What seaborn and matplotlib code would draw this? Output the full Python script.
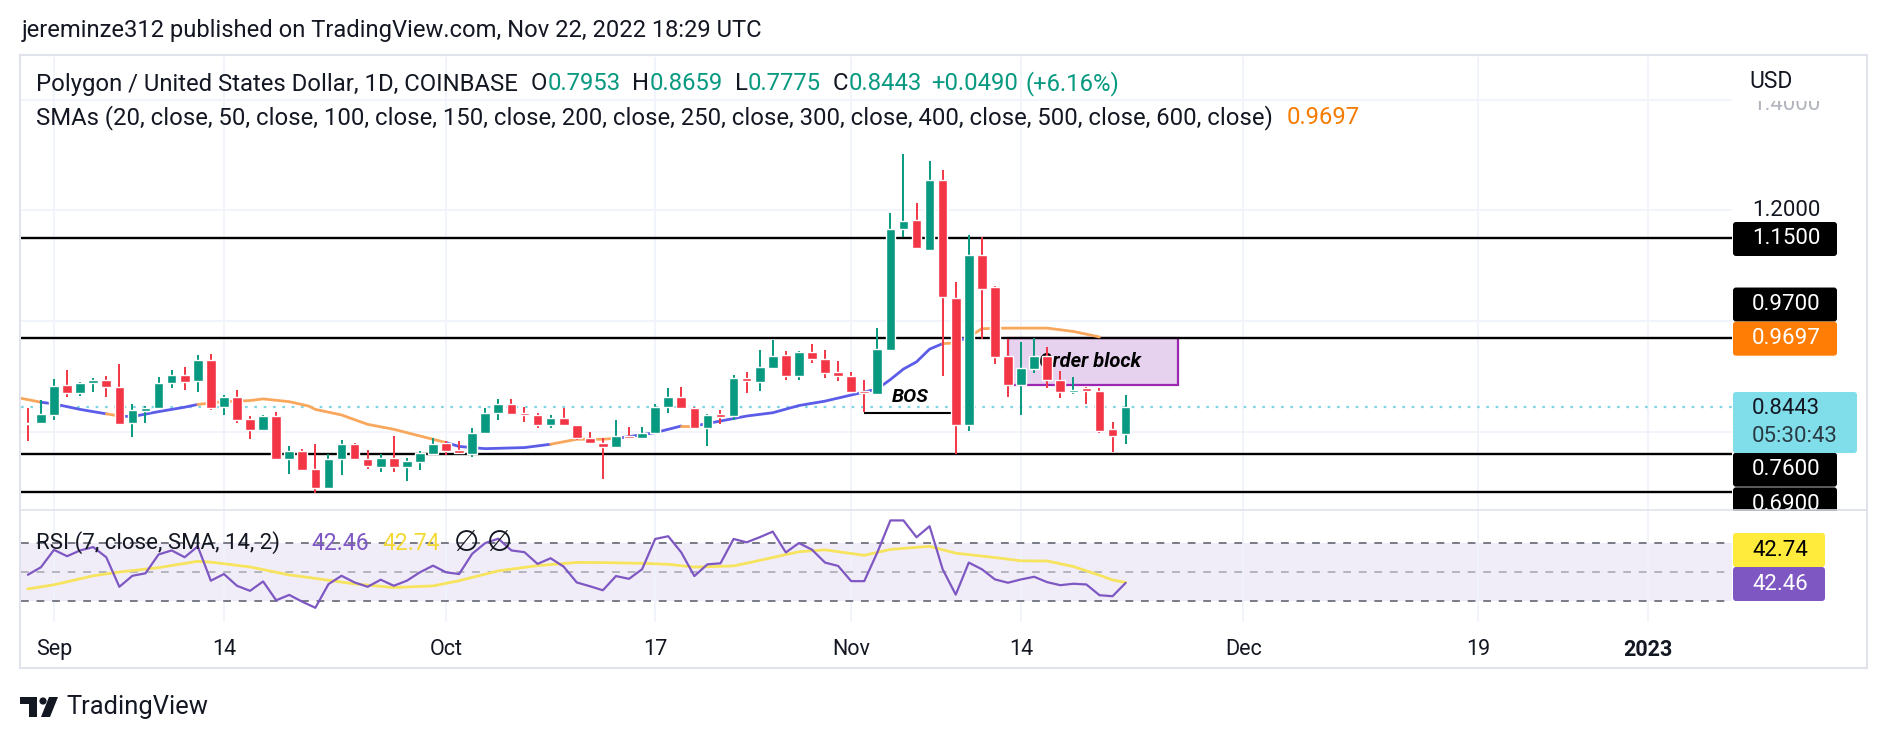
import numpy as np
import pandas as pd
import matplotlib
matplotlib.use("Agg")
import matplotlib.pyplot as plt
import matplotlib.dates as mdates
from matplotlib.patches import Rectangle, FancyBboxPatch, Polygon, Circle
import seaborn as sns

sns.set_theme(style="white")
plt.rcParams["font.family"] = ["Roboto", "DejaVu Sans"]

W, H = 1888, 742
GREEN, RED = "#089981", "#f23645"
DARK = "#131722"
GRID = "#f0f3fa"

# daily candles, Aug 30 .. Nov 22 2022
dates = pd.date_range("2022-08-30", "2022-11-22", freq="D")
opens = [0.816, 0.815, 0.830, 0.884, 0.870, 0.887, 0.893, 0.880, 0.815, 0.838,
         0.843, 0.887, 0.903, 0.892, 0.929, 0.844, 0.862, 0.822, 0.803, 0.828,
         0.750, 0.765, 0.732, 0.698, 0.750, 0.777, 0.751, 0.736, 0.753, 0.736,
         0.745, 0.760, 0.779, 0.767, 0.760, 0.798, 0.833, 0.850, 0.833, 0.830,
         0.812, 0.824, 0.811, 0.789, 0.780, 0.772, 0.792, 0.788, 0.797, 0.845,
         0.862, 0.842, 0.807, 0.832, 0.828, 0.897, 0.890, 0.915, 0.938, 0.901,
         0.943, 0.932, 0.907, 0.900, 0.874, 0.868, 0.948, 1.166, 1.183, 1.129,
         1.255, 1.041, 0.812, 1.119, 1.062, 0.936, 0.884, 0.913, 0.937, 0.894,
         0.871, 0.878, 0.874, 0.804, 0.7953]
highs = [0.842, 0.857, 0.895, 0.911, 0.889, 0.897, 0.900, 0.922, 0.850, 0.847,
         0.898, 0.911, 0.916, 0.938, 0.941, 0.866, 0.875, 0.828, 0.830, 0.835,
         0.774, 0.768, 0.777, 0.760, 0.785, 0.780, 0.766, 0.760, 0.792, 0.753,
         0.764, 0.788, 0.782, 0.783, 0.806, 0.842, 0.858, 0.858, 0.845, 0.833,
         0.830, 0.842, 0.812, 0.800, 0.788, 0.821, 0.809, 0.809, 0.849, 0.878,
         0.880, 0.845, 0.832, 0.839, 0.902, 0.907, 0.947, 0.965, 0.946, 0.946,
         0.958, 0.947, 0.927, 0.907, 0.894, 0.988, 1.196, 1.302, 1.214, 1.289,
         1.273, 1.070, 1.155, 1.152, 1.064, 0.968, 0.962, 0.970, 0.952, 0.910,
         0.898, 0.880, 0.878, 0.818, 0.8659]
lows = [0.782, 0.814, 0.821, 0.862, 0.865, 0.872, 0.862, 0.811, 0.791, 0.815,
        0.842, 0.878, 0.875, 0.871, 0.839, 0.829, 0.816, 0.786, 0.803, 0.748,
        0.724, 0.729, 0.689, 0.698, 0.722, 0.750, 0.732, 0.726, 0.726, 0.711,
        0.730, 0.759, 0.757, 0.760, 0.754, 0.798, 0.820, 0.830, 0.818, 0.807,
        0.807, 0.810, 0.785, 0.778, 0.715, 0.772, 0.786, 0.786, 0.795, 0.834,
        0.841, 0.806, 0.774, 0.814, 0.821, 0.870, 0.874, 0.915, 0.894, 0.894,
        0.924, 0.897, 0.892, 0.871, 0.836, 0.866, 0.947, 1.151, 1.130, 1.127,
        0.900, 0.760, 0.801, 0.967, 0.923, 0.863, 0.830, 0.905, 0.878, 0.860,
        0.867, 0.849, 0.798, 0.763, 0.7775]
closes = [0.814, 0.832, 0.882, 0.870, 0.887, 0.893, 0.880, 0.814, 0.839, 0.843,
          0.887, 0.903, 0.890, 0.929, 0.842, 0.862, 0.821, 0.803, 0.828, 0.750,
          0.765, 0.730, 0.698, 0.750, 0.777, 0.751, 0.738, 0.753, 0.736, 0.747,
          0.762, 0.777, 0.765, 0.762, 0.798, 0.833, 0.850, 0.831, 0.829, 0.812,
          0.824, 0.811, 0.789, 0.780, 0.772, 0.792, 0.788, 0.797, 0.845, 0.862,
          0.842, 0.807, 0.830, 0.827, 0.897, 0.891, 0.916, 0.937, 0.901, 0.943,
          0.931, 0.906, 0.901, 0.872, 0.870, 0.949, 1.166, 1.181, 1.132, 1.255,
          1.043, 0.812, 1.119, 1.058, 0.935, 0.884, 0.914, 0.937, 0.894, 0.871,
          0.876, 0.874, 0.801, 0.792, 0.8443]

# SMA line (days from Sep 1), colour of the segment that starts at each point
sma_days = [-2.5, -1, 0, 2, 4, 5, 6, 8, 10, 11, 13, 15, 16, 18, 19.5, 20, 22, 24, 26,
            28, 30, 31, 33, 36, 38, 40, 42, 43.5, 46, 48, 49, 51, 53, 55, 57, 59, 61,
            63, 64, 65, 66, 67, 68, 68.8, 70, 71, 73, 76, 78, 80, 82]
sma_vals = [0.860, 0.853, 0.850, 0.840, 0.832, 0.828, 0.827, 0.836, 0.844, 0.849,
            0.854, 0.856, 0.859, 0.854, 0.846, 0.840, 0.830, 0.813, 0.804, 0.792,
            0.780, 0.773, 0.769, 0.771, 0.777, 0.786, 0.786, 0.789, 0.798, 0.810,
            0.810, 0.819, 0.828, 0.834, 0.847, 0.855, 0.866, 0.877, 0.894, 0.913,
            0.926, 0.949, 0.959, 0.960, 0.971, 0.986, 0.987, 0.987, 0.981, 0.971,
            0.9697]
sma_seg = list("obbbobbbbooooooooooobbbbooobbobbbbbbbbbbbbobooooo")

# RSI(7) per candle and its SMA
rsi_vals = [48.1, 53.3, 65.3, 60.9, 64.9, 67.2, 60.2, 39.8, 47.4, 49.1,
            62.1, 64.9, 60.2, 67.7, 44.0, 48.6, 40.5, 37.0, 43.5, 30.5,
            34.2, 29.5, 25.3, 41.6, 47.4, 42.8, 39.8, 44.7, 40.5, 44.0,
            49.8, 54.4, 49.8, 48.6, 62.6, 70.0, 73.0, 64.9, 63.7, 55.6,
            59.5, 53.7, 42.8, 40.2, 37.4, 47.2, 45.3, 51.9, 72.8, 74.7,
            63.5, 47.2, 55.3, 56.0, 72.8, 70.5, 74.0, 77.9, 63.5, 70.0,
            65.4, 56.5, 54.2, 43.7, 43.7, 63.5, 85.6, 85.6, 74.0, 81.6,
            51.9, 34.4, 56.5, 51.9, 44.9, 42.6, 44.9, 46.7, 43.0, 40.9,
            41.9, 41.4, 34.0, 33.3, 42.46]
rsi_ma_days = [-2, 0, 3, 5, 8, 11, 12, 15, 18, 20, 23, 26, 29, 31, 34, 37, 40, 42, 45,
               47, 49, 52, 54, 57, 59, 62, 64, 67, 69, 72, 74, 76, 78, 80, 81, 82]
rsi_ma_vals = [38.3, 41.2, 47.4, 50.0, 53.0, 57.4, 56.8, 53.5, 48.0, 45.6, 41.8, 39.3,
               40.4, 44.0, 50.8, 54.4, 56.6, 56.5, 56.0, 55.3, 53.4, 54.2, 58.0, 64.0,
               65.3, 61.5, 65.6, 67.7, 63.0, 60.0, 57.7, 57.6, 53.8, 47.8, 44.5, 42.74]

levels = [1.15, 0.97, 0.76, 0.69]
last_price = 0.8443
tick_dates = ["2022-09-01", "2022-09-14", "2022-10-01", "2022-10-17", "2022-11-01",
              "2022-11-14", "2022-12-01", "2022-12-19", "2023-01-01"]
tick_labels = ["Sep", "14", "Oct", "17", "Nov", "14", "Dec", "19", "2023"]

# ---------------------------------------------------------------- layout
MAIN_TOP, MAIN_BOT, RSI_BOT = 57, 510, 622
PLOT_L, PLOT_R, FRAME_R = 21, 1732, 1867
P_MAX, P_MIN = 1.4773, 0.6581
R_MAX, R_MIN = 92.8, 15.5

fig = plt.figure(figsize=(W / 100, H / 100), dpi=100)
fig.patch.set_facecolor("white")


def px_axes(l, t, r, b):
    return fig.add_axes([l / W, 1 - b / H, (r - l) / W, (b - t) / H])


def price_px(p):
    return MAIN_TOP + (P_MAX - p) / (P_MAX - P_MIN) * (MAIN_BOT - MAIN_TOP)


ax = px_axes(PLOT_L, MAIN_TOP, PLOT_R, MAIN_BOT)
ax_rsi = px_axes(PLOT_L, MAIN_BOT, PLOT_R, RSI_BOT)

base = mdates.date2num(pd.Timestamp("2022-09-01"))
x = mdates.date2num(dates)
tx = mdates.date2num(pd.to_datetime(tick_dates))

o, h, l, c = map(np.array, (opens, highs, lows, closes))
col = np.where(c >= o, GREEN, RED)

for a in (ax, ax_rsi):
    a.set_xlim(base - 2.525, base + 128.4)
    a.set_xticks(tx)
    a.grid(axis="x", color=GRID, lw=1.3)
    a.set_axisbelow(True)
    for s in a.spines.values():
        s.set_visible(False)
    a.tick_params(length=0)

ax.set_ylim(P_MIN, P_MAX)
ax.set_yticks([0.8, 1.0, 1.2, 1.4])
ax.grid(axis="y", color=GRID, lw=1.3)
ax.tick_params(labelbottom=False, labelleft=False)

# candles
ax.vlines(x, l, h, colors=col, lw=1.4, zorder=5)
ax.bar(x, np.maximum(np.abs(c - o), 0.0015), bottom=np.minimum(o, c), width=0.74,
       color=col, zorder=6)

# SMA line, coloured segments
SMA_COL = {"b": "#5b5ce8", "o": "#f9a75c"}
sx = base + np.array(sma_days)
sv = np.array(sma_vals)
i = 0
while i < len(sma_seg):
    j = i
    while j + 1 < len(sma_seg) and sma_seg[j + 1] == sma_seg[i]:
        j += 1
    sns.lineplot(x=sx[i:j + 2], y=sv[i:j + 2], color=SMA_COL[sma_seg[i]], lw=2,
                 sort=False, ax=ax, zorder=4)
    i = j + 1

for lv in levels:
    ax.axhline(lv, color="black", lw=1.7, zorder=3)
ax.axhline(last_price, color="#7fd6e3", lw=1.6, ls=(0, (1.2, 3)), zorder=3)

# BOS
ax.hlines(0.834, base + 62, base + 68.7, color="black", lw=1.5, zorder=3)
ax.text(base + 65.5, 0.863, "BOS", fontsize=14, fontweight="bold", fontstyle="italic",
        ha="center", va="center", color="black", zorder=3)

# order block
ax.add_patch(Rectangle((base + 73, 0.884), 13, 0.085, facecolor="#e6d1ef",
                       edgecolor="#9c27b0", lw=1.6, zorder=2))
ax.text(base + 75.4, 0.926, "Order block", fontsize=14.5, fontweight="bold",
        fontstyle="italic", ha="left", va="center", color="black", zorder=3)

# RSI pane
ax_rsi.set_ylim(R_MIN, R_MAX)
ax_rsi.set_yticks([])
ax_rsi.axhspan(30, 70, color="#7e57c2", alpha=0.1, lw=0, zorder=0)
for lv, al in ((70, 1), (50, 0.5), (30, 1)):
    ax_rsi.axhline(lv, color="#787b86", lw=1.4, ls=(0, (4, 4)), alpha=al, zorder=1)
sns.lineplot(x=base + np.array(rsi_ma_days), y=rsi_ma_vals, color="#f6e35e", lw=2,
             ax=ax_rsi, zorder=2)
sns.lineplot(x=x, y=rsi_vals, color="#7e57c2", lw=1.6, ax=ax_rsi, zorder=3)
ax_rsi.set_xticklabels(tick_labels, fontsize=15.5, color=DARK)
ax_rsi.tick_params(axis="x", pad=12)
ax_rsi.get_xticklabels()[-1].set_fontweight("bold")
ax_rsi.set_xlabel("")
ax_rsi.set_ylabel("")
ax.set_xlabel("")
ax.set_ylabel("")

# ---------------------------------------------------------------- overlay in pixels
ov = px_axes(0, 0, W, H)
ov.set_xlim(0, W)
ov.set_ylim(H, 0)
ov.axis("off")
ov.patch.set_alpha(0)

ov.add_patch(Rectangle((20, 55), FRAME_R - 20, 668 - 55, fill=False, ec="#e0e3eb", lw=1.5))
ov.plot([20, FRAME_R], [MAIN_BOT, MAIN_BOT], color="#e0e3eb", lw=1.2)

# price scale
ov.text(1752, 104, "1.4000", fontsize=16, color="#b2b5be", va="center", zorder=1)
ov.add_patch(Rectangle((1733, 56), 133, 45, facecolor="white", lw=0, zorder=2))
ov.text(1749, 82, "USD", fontsize=16.5, color=DARK, va="center", zorder=3)
ov.text(1752, price_px(1.2), "1.2000", fontsize=16, color=DARK, va="center")

ps_vals = [1.15, 0.97, 0.9697, 0.76, 0.69]
ps_text = ["1.1500", "0.9700", "0.9697", "0.7600", "0.6900"]
ps_bg = ["black", "black", "#ff7d05", "black", "black"]
ps_shift = [1, -33, 1, 16, 12]
for v, t, bg, sh in zip(ps_vals, ps_text, ps_bg, ps_shift):
    yc = price_px(v) + sh
    ov.add_patch(FancyBboxPatch((1733, yc - 17), 104, 34,
                                boxstyle="round,pad=0,rounding_size=3",
                                facecolor=bg, lw=0, zorder=4))
    ov.text(1752, yc, t, fontsize=16, color="white", va="center", zorder=5)
# the main pane clips the lowest label
ov.add_patch(Rectangle((1733, MAIN_BOT + 1), 133, 21, facecolor="white", lw=0, zorder=6))
ov.plot([1733, FRAME_R], [MAIN_BOT, MAIN_BOT], color="#e0e3eb", lw=1.2, zorder=7)

ov.add_patch(FancyBboxPatch((1733, 392), 124, 61, boxstyle="round,pad=0,rounding_size=3",
                            facecolor="#80deea", lw=0, zorder=4))
ov.text(1752, 408, "0.8443", fontsize=16, color=DARK, va="center", zorder=5)
ov.text(1752, 436, "05:30:43", fontsize=16, color="#2a3a44", va="center", zorder=5)

# RSI scale
ov.add_patch(FancyBboxPatch((1733, 533), 92, 34, boxstyle="round,pad=0,rounding_size=3",
                            facecolor="#ffeb3b", lw=0, zorder=8))
ov.text(1752, 550, "42.74", fontsize=16, color="black", va="center", zorder=9)
ov.add_patch(FancyBboxPatch((1733, 567), 92, 34, boxstyle="round,pad=0,rounding_size=3",
                            facecolor="#7e57c2", lw=0, zorder=8))
ov.text(1752, 584, "42.46", fontsize=16, color="white", va="center", zorder=9)

# header and legends
renderer = fig.canvas.get_renderer()


def pieces(x0, y0, parts, size=16):
    xx = x0
    for s, cl, gap in parts:
        t = ov.text(xx, y0, s, fontsize=size, color=cl, va="center", ha="left")
        xx += t.get_window_extent(renderer).width + gap


ov.text(22, 30, "jereminze312 published on TradingView.com, Nov 22, 2022 18:29 UTC",
        fontsize=17.1, color=DARK, va="center")
pieces(36, 84, [("Polygon / United States Dollar, 1D, COINBASE", DARK, 13),
                ("O", DARK, 0), ("0.7953", GREEN, 12), ("H", DARK, 0), ("0.8659", GREEN, 12),
                ("L", DARK, 0), ("0.7775", GREEN, 12), ("C", DARK, 0), ("0.8443", GREEN, 10),
                ("+0.0490", GREEN, 7), ("(+6.16%)", GREEN, 0)], size=17.2)
pieces(36, 118, [("SMAs (20, close, 50, close, 100, close, 150, close, 200, close, 250, close, "
                  "300, close, 400, close, 500, close, 600, close)", DARK, 14),
                 ("0.9697", "#f57c00", 0)], size=17.2)

rsi_leg = [("RSI (7, close, SMA, 14, 2)", DARK, 36, 16), ("42.46", "#7e57c2", 311, 16.5),
           ("42.74", "#f3d936", 382, 16.5), ("\u2205", DARK, 454, 21), ("\u2205", DARK, 487, 21)]
for s, cl, xx, fs in rsi_leg:
    ov.text(xx, 543, s, fontsize=fs, color=cl, va="center", ha="left")

# footer logo
ov.add_patch(Rectangle((20, 697), 17, 7, facecolor=DARK, lw=0))
ov.add_patch(Rectangle((29, 697), 8, 20, facecolor=DARK, lw=0))
ov.add_patch(Circle((43, 701), 3.6, facecolor=DARK, lw=0))
ov.add_patch(Polygon([[49, 697], [58, 697], [50, 717], [41, 717]], facecolor=DARK, lw=0))
ov.text(66, 707, "TradingView", fontsize=18.4, color=DARK, va="center")

fig.savefig("out.png", dpi=100)
